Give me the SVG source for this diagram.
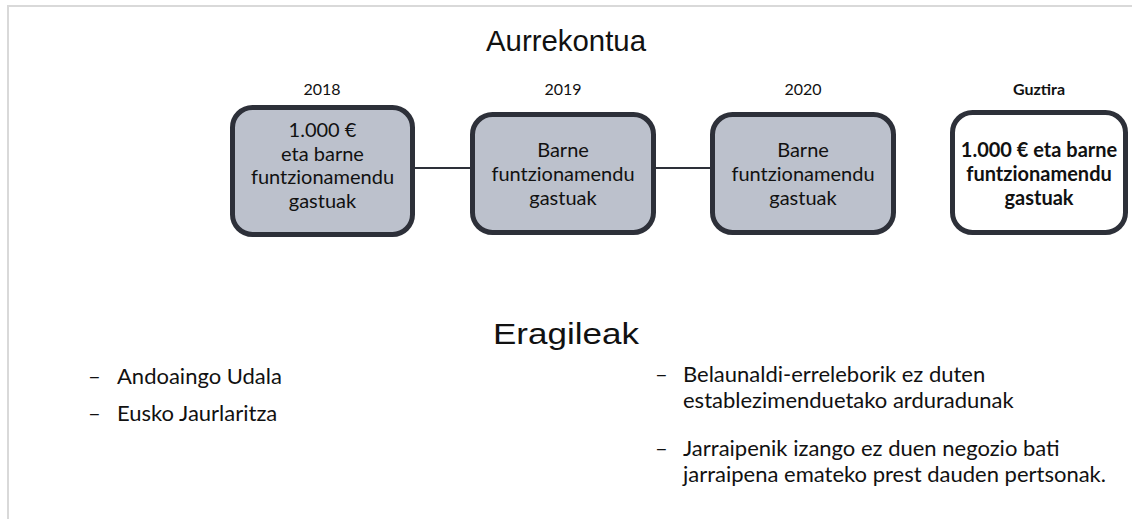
<svg xmlns="http://www.w3.org/2000/svg" width="1132" height="519" viewBox="0 0 1132 519">
<style>
.frame{fill:none;stroke:#d9d9d9;stroke-width:2}
.box{fill:#bcc1cc;stroke:#2d3039;stroke-width:5}
.total{fill:#ffffff;stroke:#2d3039;stroke-width:5}
.conn{stroke:#2d3039;stroke-width:2;fill:none}
.bt{font-family:Lato,"Open Sans",sans-serif;font-size:20px;fill:#111111;text-anchor:middle}
.yr{font-family:Lato,"Open Sans",sans-serif;font-size:16px;fill:#111111;text-anchor:middle}
.h{font-family:"Liberation Sans",Arial,sans-serif;font-size:30px;fill:#111111;text-anchor:middle}
.li{font-family:Lato,"Open Sans",sans-serif;font-size:22px;fill:#111111}
</style>
<rect width="1132" height="519" fill="#ffffff"/>
<path class="frame" d="M8,519 V6 H1132"/>
<text class="h" x="566" y="51" textLength="160" lengthAdjust="spacingAndGlyphs">Aurrekontua</text>
<text class="yr" x="322" y="95">2018</text>
<text class="yr" x="563" y="95">2019</text>
<text class="yr" x="803" y="95">2020</text>
<text class="yr" x="1039" y="95" font-weight="bold">Guztira</text>
<g id="connectors">
<line class="conn" x1="415" y1="168" x2="470" y2="168"/>
<line class="conn" x1="656" y1="168" x2="710" y2="168"/>
</g>
<g id="node-2018">
<rect class="box" x="232.5" y="107.5" width="180" height="127" rx="20"/>
<text class="bt" x="322.5" y="137">1.000 €</text>
<text class="bt" x="322.5" y="160.5">eta barne</text>
<text class="bt" x="322.5" y="184">funtzionamendu</text>
<text class="bt" x="322.5" y="207.5">gastuak</text>
</g>
<g id="node-2019">
<rect class="box" x="472.5" y="114.5" width="181" height="118" rx="20"/>
<text class="bt" x="563" y="157">Barne</text>
<text class="bt" x="563" y="181">funtzionamendu</text>
<text class="bt" x="563" y="205">gastuak</text>
</g>
<g id="node-2020">
<rect class="box" x="712.5" y="114.5" width="181" height="118" rx="20"/>
<text class="bt" x="803" y="157">Barne</text>
<text class="bt" x="803" y="181">funtzionamendu</text>
<text class="bt" x="803" y="205">gastuak</text>
</g>
<g id="node-total">
<rect class="total" x="952.5" y="112.5" width="173" height="120" rx="20"/>
<text class="bt" x="1039" y="157" font-weight="bold">1.000 € eta barne</text>
<text class="bt" x="1039" y="181" font-weight="bold">funtzionamendu</text>
<text class="bt" x="1039" y="205" font-weight="bold">gastuak</text>
</g>
<text class="h" x="566" y="344" textLength="146" lengthAdjust="spacingAndGlyphs">Eragileak</text>
<g id="list-left">
<text class="li" x="88" y="384">–</text>
<text class="li" x="117" y="384">Andoaingo Udala</text>
<text class="li" x="88" y="421">–</text>
<text class="li" x="117" y="421">Eusko Jaurlaritza</text>
</g>
<g id="list-right">
<text class="li" x="655" y="382">–</text>
<text class="li" x="683" y="382">Belaunaldi-erreleborik ez duten</text>
<text class="li" x="683" y="408">establezimenduetako arduradunak</text>
<text class="li" x="655" y="456">–</text>
<text class="li" x="683" y="456">Jarraipenik izango ez duen negozio bati</text>
<text class="li" x="683" y="482">jarraipena emateko prest dauden pertsonak.</text>
</g>
</svg>
